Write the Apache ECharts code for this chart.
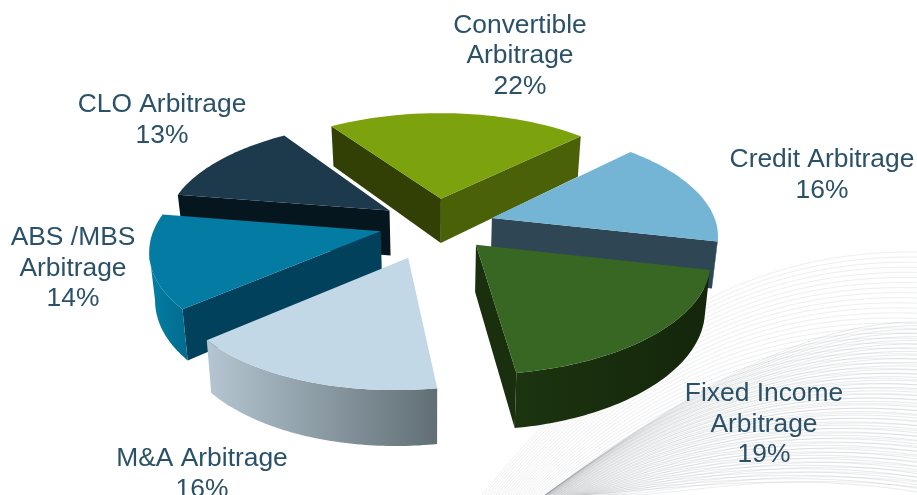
<!DOCTYPE html>
<html>
<head>
<meta charset="utf-8">
<title>Arbitrage allocation</title>
<script src="https://cdn.jsdelivr.net/npm/echarts@6/dist/echarts.min.js"></script>
<style>
  html, body { margin: 0; padding: 0; background: #fff; overflow: hidden; }
  #main { width: 917px; height: 495px; }
</style>
</head>
<body>
<div id="main"></div>
<script>
var categories = ['Convertible\nArbitrage', 'Credit Arbitrage', 'Fixed Income\nArbitrage', 'M&A Arbitrage', 'ABS /MBS\nArbitrage', 'CLO Arbitrage'];
var shares = [22, 16, 19, 16, 14, 13];

// look of each slice, same order as categories
var topColors = ['#7ca20e', '#74b4d5', '#376722', '#c3d8e7', '#047ba3', '#1c3a4c'];
var startWallColors = ['#334005', '#2f4655', '#162a0d', '#8a9aa5', '#02415c', '#06161e'];
var endWallColors = ['#4b6108', '#2f4655', '#1a2f0e', '#8a9aa5', '#02415c', '#06161e'];
var arcWallLeft = ['#4b6108', '#5f93b0', '#1c340f', '#b5c6d2', '#057fa6', '#06161e'];
var arcWallRight = ['#4b6108', '#4d7d98', '#14260b', '#616f75', '#016b8c', '#06161e'];
var paintOrder = [1, 2, 4, 5, 3, 0];
var labelPos = [[520, 56], [822, 175], [764, 424.5], [202, 474], [73, 268.5], [162, 120]];
var nudges = [[-1, 0], [-4, -1], [-4, -4.5], [-5, 2], [6, -4], [5.5, -1]];

// fake 3d view of the ground plane
var cx = 436, cy = 227, radius = 225, squash = 105, persp = 0.14, thick = 46, explode = 0.28;

function project(u, v, low, nudge) {
  var d = 1 + persp * v;
  var x = cx + radius * u / d;
  var y = cy - squash * v / d;
  // front of the plate leans a bit to the left in the original
  if (v < 0) x -= 6 * v * v;
  if (low) {
    x = cx + (x - cx) * 0.98;
    y += thick / d;
  }
  return [x + nudge[0], y + nudge[1]];
}

function wall(a, b, fill, z2, nudge) {
  // a, b are lists of ground points along the top edge
  var pts = a.map(function (p) { return project(p[0], p[1], false, nudge); });
  var low = b.map(function (p) { return project(p[0], p[1], true, nudge); });
  return { type: 'polygon', z2: z2, silent: true, shape: { points: pts.concat(low.reverse()) }, style: { fill: fill } };
}

function renderSlice(params, api) {
  var i = params.dataIndex;
  var from = api.value(0), to = api.value(1), mid = (from + to) / 2;
  var z = paintOrder[i] * 10;
  var nudge = nudges[i];

  function ground(r, pct) {
    var p = api.coord([r, pct]);
    return [(p[0] - cx) / radius, (cy - p[1]) / radius];
  }
  function screenX(p) {
    return project(p[0], p[1], false, nudge)[0];
  }
  var off = ground(explode, mid);
  var apex = off;
  var arc = [];
  for (var k = 0; k <= 60; k++) {
    var g = ground(1, from + (to - from) * k / 60);
    arc.push([g[0] + off[0], g[1] + off[1]]);
  }

  var children = [];
  // radial walls, only when they face the viewer
  if (screenX(arc[0]) < screenX(apex)) {
    children.push(wall([apex, arc[0]], [apex, arc[0]], startWallColors[i], z, nudge));
  }
  if (screenX(apex) < screenX(arc[60])) {
    children.push(wall([arc[60], apex], [arc[60], apex], endWallColors[i], z, nudge));
  }
  // outer wall, the part of the rim running right to left
  var rim = [];
  for (var n = 0; n < 60; n++) {
    if (screenX(arc[n + 1]) < screenX(arc[n])) {
      if (!rim.length) rim.push(arc[n]);
      rim.push(arc[n + 1]);
    }
  }
  if (rim.length) {
    children.push(wall(rim, rim, new echarts.graphic.LinearGradient(0, 0, 1, 0, [
      { offset: 0, color: arcWallLeft[i] },
      { offset: 1, color: arcWallRight[i] }
    ]), z + 1, nudge));
  }
  // top face
  var face = [apex].concat(arc).map(function (p) { return project(p[0], p[1], false, nudge); });
  children.push({ type: 'polygon', z2: z + 2, silent: true, shape: { points: face }, style: { fill: topColors[i] } });
  // label
  children.push({
    type: 'text', z2: 100, silent: true,
    style: {
      x: labelPos[i][0], y: labelPos[i][1],
      text: categories[i] + '\n' + api.value(2) + '%',
      fill: '#2b5169',
      font: '26.4px "Liberation Sans", Arial, sans-serif',
      lineHeight: 30.5,
      align: 'center', verticalAlign: 'middle'
    }
  });
  return { type: 'group', children: children };
}

// cumulative ranges for the angle axis
var sliceData = [];
var sum = 0;
shares.forEach(function (s) {
  sliceData.push([sum, sum + s, s]);
  sum += s;
});

// decorative line pattern behind the pie
var lines = [];
for (var t = 0; t <= 46; t++) {
  var a = t / 46;
  lines.push({
    type: 'bezierCurve', z: 0, silent: true,
    shape: { x1: 482 + 130 * a, y1: 495, cpx1: 625 + 50 * a, cpy1: 318 + 180 * a, cpx2: 760, cpy2: 250 + 220 * a, x2: 917, y2: 252 + 235 * a },
    style: { stroke: '#c2c6cb', lineWidth: 0.5, fill: null, opacity: 0.6 }
  });
}
for (var t2 = 0; t2 <= 46; t2++) {
  var b = t2 / 46;
  lines.push({
    type: 'bezierCurve', z: 0, silent: true,
    shape: { x1: 545 + 40 * b * b, y1: 495, cpx1: 680, cpy1: 397 + 90 * b * b, cpx2: 800, cpy2: 322 + 150 * b, x2: 917, y2: 322 + 170 * b },
    style: { stroke: '#7c8088', lineWidth: 0.4, fill: null, opacity: 0.45 }
  });
}

var myChart = echarts.init(document.getElementById('main'));
myChart.setOption({
  animation: false,
  polar: { center: [cx, cy], radius: radius },
  angleAxis: { type: 'value', min: 0, max: 100, startAngle: 124, show: false },
  radiusAxis: { type: 'value', min: 0, max: 1, show: false },
  graphic: { elements: lines },
  series: [{
    type: 'custom',
    coordinateSystem: 'polar',
    renderItem: renderSlice,
    encode: { radius: 2, angle: 0 },
    data: sliceData
  }]
});
</script>
</body>
</html>
